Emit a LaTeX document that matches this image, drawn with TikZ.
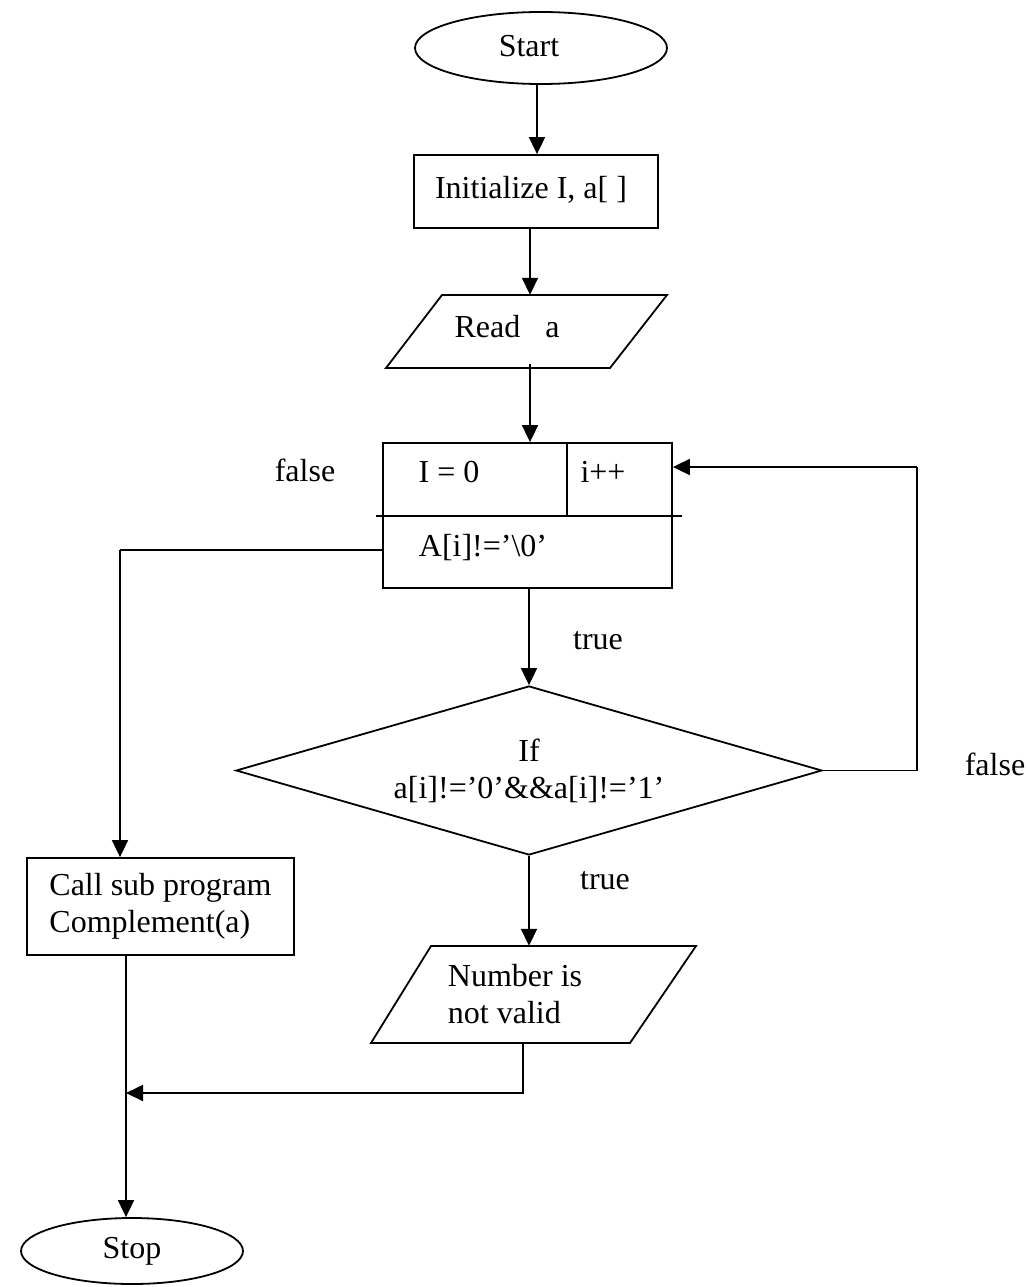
\documentclass[tikz,border=0pt]{standalone}
\usepackage{fontspec}
\setmainfont{Liberation Serif}
\usetikzlibrary{shapes.geometric,arrows.meta,calc}
\begin{document}
\begin{tikzpicture}[x=1pt,y=-1pt,
  every node/.style={font=\fontsize{32}{37}\selectfont, inner sep=0pt},
  ln/.style={line width=1.8pt},
  arr/.style={ln, -{Triangle[length=17pt,width=16pt]}},
  term/.style={ellipse, draw, ln},
  box/.style={rectangle, draw, ln},
  ghost/.style={rectangle, draw=none},
  lbl/.style={}]
\useasboundingbox (0,0) rectangle (1026,1287);
% terminals
\node[term, minimum width=252pt, minimum height=72pt] (start) at (541,48) {};
\node at (529,46) {Start};
\node[term, minimum width=222pt, minimum height=66pt] (stop) at (132,1251) {Stop};
% init
\node[box, minimum width=244pt, minimum height=73pt] (init) at (536,191.5) {};
\node at (531,190) {Initialize I, a[ ]};
% read (parallelogram)
\node[ghost, minimum width=240pt, minimum height=73pt] (read) at (530,331.5) {};
\draw[ln] (442,295) -- (667,295) -- (610,368) -- (386,368) -- cycle;
\node at (507,327) {Read\hspace{25pt}a};
% loop box
\node[box, minimum width=289pt, minimum height=145pt] (loop) at (527.5,515.5) {};
\draw[ln] (376,516) -- (682,516);
\draw[ln] (567,443) -- (567,516);
\node (izero) at (449,472) {I = 0};
\node (ipp) at (603,472) {i++};
\node (cond) at (483,548) {A[i]!='\textbackslash 0'};
% decision
\node[diamond, draw, ln, aspect=3.47, minimum width=586pt, minimum height=169pt, align=center] (dia) at (529,770.5)
  {If\\a[i]!='0'\&\&a[i]!='1'};
% call box
\node[box, minimum width=267pt, minimum height=97pt, align=left] (call) at (160.5,906.5)
  {Call sub program\\Complement(a)};
% number invalid (parallelogram)
\node[ghost, minimum width=260pt, minimum height=97pt] (num) at (530,994.5) {};
\draw[ln] (431,946) -- (696,946) -- (630,1043) -- (371,1043) -- cycle;
\node[align=left] at (515,994) {Number is\\not valid};
% labels
\node at (305,470) {false};
\node at (598,641) {true};
\node at (995,764) {false};
\node at (605,881) {true};
% connectors
\coordinate (fl) at (120,550);
\coordinate (fr) at (917,467);
\coordinate (mj) at (126,1093);
\draw[arr] (start.south -| 537,0) -- (init.north -| 537,0);
\draw[arr] (init.south -| read.north) -- (read.north);
\draw[arr] ([yshift=4pt]read.south) -- (read.south |- loop.north);
\draw[ln] (loop.west |- fl) -- (fl);
\draw[arr] (fl) -- (fl |- call.north);
\draw[arr] (loop.south -| dia.north) -- (dia.north);
\draw[ln] (dia.east) -| (fr);
\draw[arr] (fr) -- (fr -| loop.east);
\draw[arr] (dia.south) -- (dia.south |- num.north);
\draw[arr] ([xshift=-7pt]num.south) |- (mj);
\draw[arr] (call.south -| mj) -- (mj |- stop.north);
\end{tikzpicture}
\end{document}
